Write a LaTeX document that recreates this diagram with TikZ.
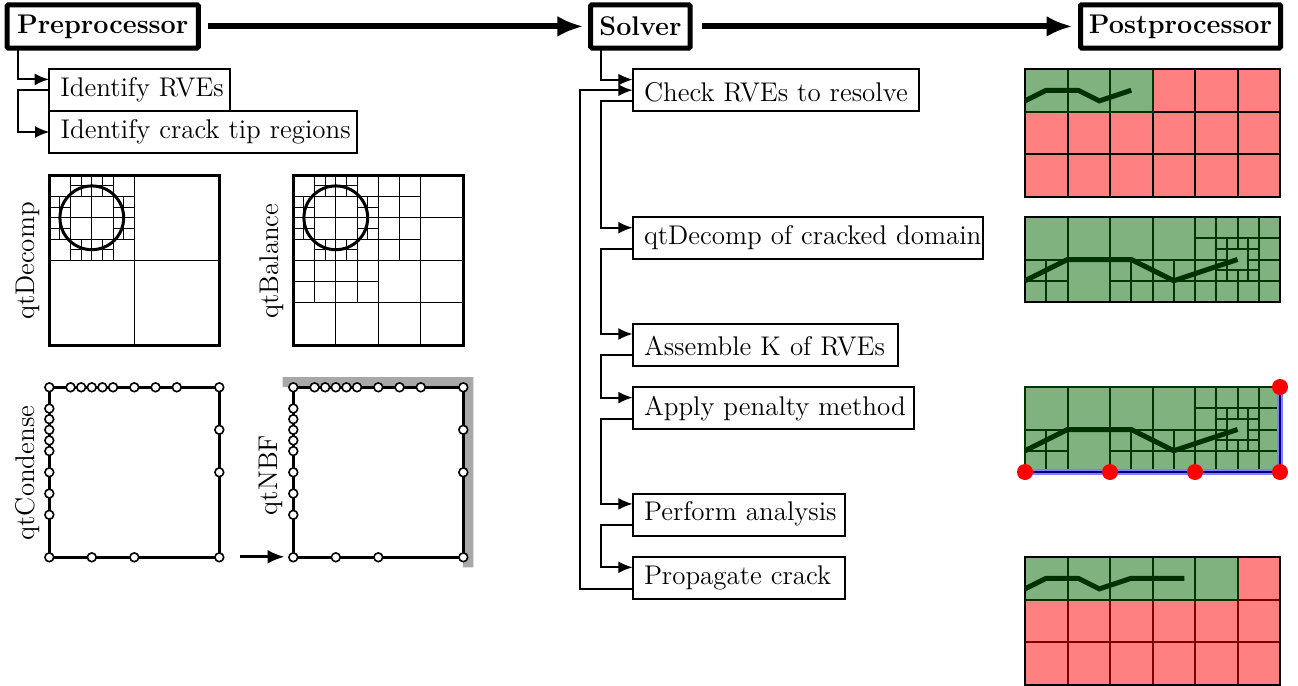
\documentclass[tikz,border=0pt]{standalone}
\usetikzlibrary{arrows.meta}
\definecolor{pgreen}{HTML}{80B280}
\definecolor{pred}{HTML}{FF8080}
\definecolor{dgreen}{HTML}{003300}
\definecolor{dred}{HTML}{800000}
\definecolor{crackc}{HTML}{003000}
\definecolor{nbfgray}{HTML}{A8A8A8}
\tikzset{
  head/.style={draw,line width=2.5pt,font=\fontsize{13.5}{15}\selectfont\bfseries,outer sep=0pt,inner sep=0pt,minimum height=21.6pt,rounded corners=0.6pt},
  taskbox/.style={draw,fill=white,line width=1pt,font=\fontsize{13.5}{15}\selectfont,outer sep=0pt,inner xsep=0pt,inner ysep=0pt,minimum height=21pt,text width=#1,align=left,execute at begin node=\hspace*{5.65pt}},
  textdrop/.style={text height=11pt,text depth={11pt-2*#1}},
  vlabel/.style={rotate=90,anchor=base,font=\fontsize{13.5}{15}\selectfont,inner sep=0pt},
  conn/.style={line width=1pt,-{Latex[length=7.2pt,width=6pt]}},
  mainarrow/.style={line width=3pt,-{Latex[length=13pt,width=10.5pt]}},
  smallarrow/.style={line width=1.4pt,-{Latex[length=8.5pt,width=7pt]}},
  thin grid/.style={line width=0.5pt},
  outerbox/.style={line width=1.6pt},
  dot/.style={draw,fill=white,line width=0.8pt},
  crackline/.style={line width=2.5pt,crackc,line join=miter},
  panelline/.style={line width=1pt},
  unitgrid/.style={shift={(#1)},x=10.625pt,y=-10.625pt}
}
\newcommand{\qtdecompgrid}{%
  \draw[thin grid] (4,0)--(4,8) (0,4)--(8,4) (2,0)--(2,4) (0,2)--(4,2)
    (1,0)--(1,4) (3,0)--(3,4) (0,1)--(4,1) (0,3)--(4,3)
    (1,.5)--(3,.5) (1,3.5)--(3,3.5) (1.5,0)--(1.5,1) (2.5,0)--(2.5,1) (1.5,3)--(1.5,4) (2.5,3)--(2.5,4)
    (0,1.5)--(1,1.5) (0,2.5)--(1,2.5) (3,1.5)--(4,1.5) (3,2.5)--(4,2.5)
    (.5,1)--(.5,3) (3.5,1)--(3.5,3);
}
\newcommand{\qtdots}{%
  \foreach \a in {0,1,1.5,2,2.5,3,4,5,6,8} {\filldraw[dot] (\a,0) circle[radius=2.2pt];}
  \foreach \a in {1,1.5,2,2.5,3,4,5,6,8} {\filldraw[dot] (0,\a) circle[radius=2.2pt];}
  \foreach \a in {2,4,8} {\filldraw[dot] (8,\a) circle[radius=2.2pt];}
  \foreach \a in {2,4} {\filldraw[dot] (\a,8) circle[radius=2.2pt];}
}
\newcommand{\finegrid}[1]{%
  \fill[pgreen] (0,0) rectangle (12,4);
  \draw[panelline,dgreen]
    (2,0)--(2,4) (4,0)--(4,4) (6,0)--(6,4) (8,0)--(8,4) (9,0)--(9,4) (11,0)--(11,4)
    (10,0)--(10,1.5) (10,2.5)--(10,4)
    (0,2)--(9.5,2) (10.5,2)--(12,2) (8,1)--(12,1)
    (0,3)--(2,3) (4,3)--(12,3) (1,2)--(1,4) (5,2)--(5,4) (7,2)--(7,4)
    (9,1.5)--(11,1.5) (9,2.5)--(11,2.5) (9.5,1)--(9.5,3) (10.5,1)--(10.5,3);
  \draw[panelline,#1] (0,0) rectangle (12,4);
}
\newcommand{\longcrack}{\draw[crackline] (0,3)--(2,2)--(5,2)--(7,3)--(10,2);}
\begin{document}
\begin{tikzpicture}[x=0.5pt,y=-0.5pt]
\useasboundingbox (0,0) rectangle (1298,686);
% headers
\node[head,minimum width=95.6pt] (pre) at (102.7,26.4) {Preprocessor};
\node[head,minimum width=49.8pt] (sol) at (640.4,26.4) {Solver};
\node[head,minimum width=100pt] (post) at (1180.5,26.4) {Postprocessor};
\draw[mainarrow,shorten <=4.7pt,shorten >=3.6pt] (pre.east) -- (sol.west);
\draw[mainarrow,shorten <=6pt,shorten >=4pt] (sol.east) -- (post.west);
% preprocessor boxes
\node[taskbox=90.4pt] (rve) at (139.5,90) {Identify RVEs};
\node[taskbox=154pt] (tip) at (203.4,132) {Identify crack tip regions};
% solver boxes
\node[taskbox=143.3pt,textdrop=5.4pt] (check) at (776,90.2) {Check RVEs to resolve};
\node[taskbox=175.3pt,textdrop=3.1pt] (dec) at (808,238.3) {qtDecomp of cracked domain};
\node[taskbox=132.6pt,textdrop=5.4pt] (asm) at (765.3,344.6) {Assemble K of RVEs};
\node[taskbox=140.8pt] (pen) at (773.5,408.2) {Apply penalty method};
\node[taskbox=106.2pt,textdrop=3pt] (ana) at (738.9,514.5) {Perform analysis};
\node[taskbox=106.2pt] (prop) at (738.9,577.9) {Propagate crack};
% ports
\foreach \n in {rve,tip,check,dec,asm,pen,ana,prop} {
  \coordinate (\n-in) at ([yshift=5.3pt]\n.west);
  \coordinate (\n-out) at ([yshift=-5.3pt]\n.west);
}
\coordinate (lanepre) at (17.5,0);
\coordinate (lanesol) at (601,0);
\coordinate (laneback) at (580,0);
\coordinate (check-back) at (check.west);
\draw[conn] (pre.south -| lanepre) |- (rve-in);
\draw[conn] (rve.west) -| (lanepre |- tip.west) -- (tip.west);
\draw[conn] (sol.south -| lanesol) |- (check-in);
\draw[conn] (check-out) -| (lanesol |- dec-in) -- (dec-in);
\draw[conn] (dec-out) -| (lanesol |- asm-in) -- (asm-in);
\draw[conn] (asm-out) -| (lanesol |- pen-in) -- (pen-in);
\draw[conn] (pen-out) -| (lanesol |- ana-in) -- (ana-in);
\draw[conn] (ana-out) -| (lanesol |- prop-in) -- (prop-in);
\draw[conn] (prop-out) -| (laneback |- check-back) -- (check-back);
% qt labels
\node[vlabel] (l1) at (34,261) {qtDecomp};
\node[vlabel] (l2) at (278,261) {qtBalance};
\node[vlabel] (l3) at (34,473) {qtCondense};
\node[vlabel] (l4) at (277,475) {qtNBF};
% qtDecomp
\begin{scope}[unitgrid={49.3,175.3}]
  \qtdecompgrid
  \draw[outerbox] (0,0) rectangle (8,8);
  \draw[line width=1.5pt] (2,2) circle (1.5);
\end{scope}
% qtBalance
\begin{scope}[unitgrid={293.3,175.3}]
  \qtdecompgrid
  \draw[thin grid] (6,0)--(6,8) (5,0)--(5,4) (4,1)--(6,1) (4,3)--(6,3) (4,2)--(8,2)
    (2,4)--(2,8) (1,4)--(1,6) (3,4)--(3,6) (0,5)--(4,5) (0,6)--(8,6);
  \draw[outerbox] (0,0) rectangle (8,8);
  \draw[line width=1.5pt] (2,2) circle (1.5);
\end{scope}
% qtCondense
\begin{scope}[unitgrid={49.3,387.3}]
  \draw[outerbox] (0,0) rectangle (8,8);
  \qtdots
\end{scope}
% qtNBF
\fill[nbfgray] (282.5,377) -- (473.3,377) -- (473.3,567.3) -- (463,567.3) -- (463,387) -- (282.5,387) -- cycle;
\begin{scope}[unitgrid={293.3,387.3}]
  \draw[outerbox] (0,0) rectangle (8,8);
  \qtdots
\end{scope}
\coordinate (nbfstart) at (240,556.8);
\coordinate (nbfend) at (284.5,556.8);
\draw[smallarrow] (nbfstart) -- (nbfend);
% postprocessor panels
\begin{scope}[unitgrid={1025,69}]
  \fill[pred] (0,0) rectangle (12,6);
  \fill[pgreen] (0,0) rectangle (6,2);
  \draw[panelline] (2,2)--(2,6) (4,2)--(4,6) (6,2)--(6,6) (8,0)--(8,6) (10,0)--(10,6) (6,2)--(12,2) (0,4)--(12,4);
  \draw[panelline,dgreen] (2,0)--(2,2) (4,0)--(4,2) (0,2)--(6,2) (6,0)--(6,2);
  \draw[panelline] (0,0) rectangle (12,6);
  \draw[crackline] (0,1.5)--(1,1)--(2.5,1)--(3.5,1.5)--(5,1);
\end{scope}
\begin{scope}[unitgrid={1025,217}]
  \finegrid{black}
  \longcrack
\end{scope}
\begin{scope}[unitgrid={1025,387}]
  \finegrid{dgreen}
  \draw[line width=2.6pt,blue!50] (12,0)--(12,4)--(0,4);
  \draw[line width=1.2pt,blue!45!black] (12,0)--(12,4)--(0,4);
  \longcrack
  \foreach \p in {(0,4),(4,4),(8,4),(12,4),(12,0)} {\fill[red] \p circle[radius=4pt];}
\end{scope}
\begin{scope}[unitgrid={1025,557}]
  \fill[pred] (0,0) rectangle (12,6);
  \fill[pgreen] (0,0) rectangle (10,2);
  \draw[panelline,dred] (2,2)--(2,6) (4,2)--(4,6) (6,2)--(6,6) (8,2)--(8,6) (10,2)--(10,6) (10,2)--(12,2) (0,4)--(12,4);
  \draw[panelline,dgreen] (2,0)--(2,2) (4,0)--(4,2) (6,0)--(6,2) (8,0)--(8,2) (10,0)--(10,2) (0,2)--(10,2);
  \draw[panelline] (0,0) rectangle (12,6);
  \draw[crackline] (0,1.5)--(1,1)--(2.5,1)--(3.5,1.5)--(5,1)--(7.5,1);
\end{scope}
\end{tikzpicture}
\end{document}
